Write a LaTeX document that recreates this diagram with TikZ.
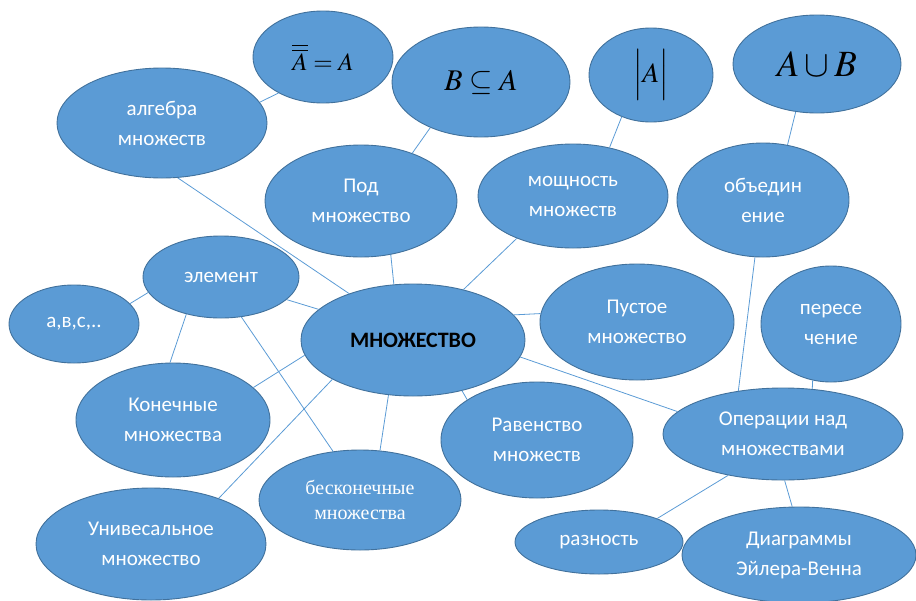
\documentclass[tikz,border=0pt]{standalone}
\usepackage{amsmath,amssymb}
\usepackage{mathptmx}
\usepackage{fontspec}
\setmainfont{Carlito}
\newfontfamily\timesfont{Liberation Serif}
\usepackage{tikz}
\usetikzlibrary{shapes.geometric}

\definecolor{bubblefill}{HTML}{5B9BD5}
\definecolor{bubbleline}{HTML}{41719C}

\begin{document}
\begin{tikzpicture}[x=1pt, y=-1pt,
    bubble/.style={ellipse, draw=bubbleline, line width=0.9pt, fill=bubblefill,
        text=white, align=center, inner sep=0pt,
        font=\fontsize{21}{30}\selectfont},
    mathbubble/.style={bubble, text=black},
    link/.style={bubblefill, line width=0.8pt}]
\useasboundingbox (0,0) rectangle (916,600);
% Formulas on top
\node[mathbubble, minimum width=140pt, minimum height=92pt, font=\fontsize{25}{28}\selectfont] (dbl) at (323,57) {$\overline{\overline{A}}=A$};
\node[mathbubble, minimum width=178pt, minimum height=110pt, font=\fontsize{30}{34}\selectfont] (subm) at (481,82) {$B\subseteq A$};
\node[mathbubble, minimum width=124pt, minimum height=94pt, font=\fontsize{28}{30}\selectfont] (cardm) at (651,75) {$\left|\vphantom{\Big|}A\right|$};
\node[mathbubble, minimum width=168pt, minimum height=98pt, font=\fontsize{37}{40}\selectfont] (unim) at (817,64) {$A\cup B$};
% Second row
\node[bubble, minimum width=210pt, minimum height=110pt] (alg) at (162,123) {алгебра\\множеств};
\node[bubble, minimum width=192pt, minimum height=112pt] (sub) at (361,201) {Под\\множество};
\node[bubble, minimum width=190pt, minimum height=104pt] (card) at (573,196) {мощность\\множеств};
\node[bubble, minimum width=172pt, minimum height=114pt] (uni) at (763,200) {объедин\\ение};
% Middle
\node[bubble, minimum width=156pt, minimum height=82pt] (elem) at (221,277) {элемент};
\node[bubble, minimum width=130pt, minimum height=78pt] (abc) at (74,324) {а,в,с,..};
\node[bubble, minimum width=224pt, minimum height=112pt, text=black, font=\fontsize{22}{30}\selectfont\bfseries] (mn) at (413,340) {МНОЖЕСТВО};
\node[bubble, minimum width=194pt, minimum height=116pt] (empty) at (637,322) {Пустое\\множество};
\node[bubble, minimum width=140pt, minimum height=116pt] (inter) at (831,324) {пересе\\чение};
% Lower rows
\node[bubble, minimum width=194pt, minimum height=114pt] (fin) at (173,420) {Конечные\\множества};
\node[bubble, minimum width=192pt, minimum height=116pt] (eq) at (537,440) {Равенство\\множеств};
\node[bubble, minimum width=240pt, minimum height=92pt] (ops) at (783,434) {Операции над\\множествами};
\node[bubble, minimum width=202pt, minimum height=100pt, font=\timesfont\fontsize{20}{25}\selectfont] (infin) at (360,500) {бесконечные\\множества};
\node[bubble, minimum width=230pt, minimum height=112pt] (univ) at (151,544) {Унивесальное\\множество};
\node[bubble, minimum width=168pt, minimum height=64pt] (diff) at (599,542) {разность};
\node[bubble, minimum width=234pt, minimum height=96pt] (venn) at (799,555) {Диаграммы\\Эйлера-Венна};
% Connectors
\foreach \a/\b in {alg.12/dbl.219, alg.-74/mn.144, sub.43/subm.222, sub.-61/mn.109,
    card.53/cardm.235, card.217/mn.45, uni.66/unim.246, uni.262/ops.136,
    inter.252/ops.57, mn.14/empty.175, mn.-9/ops.168, mn.-46/eq.150,
    mn.246/infin.68, mn.188/fin.22, mn.206/univ.34, elem.-19/mn.162,
    elem.192/abc.20, elem.227/fin.93, elem.-63/infin.119,
    ops.217/diff.22, ops.-88/venn.98}
    \draw[link] (\a) -- (\b);
\end{tikzpicture}
\end{document}
